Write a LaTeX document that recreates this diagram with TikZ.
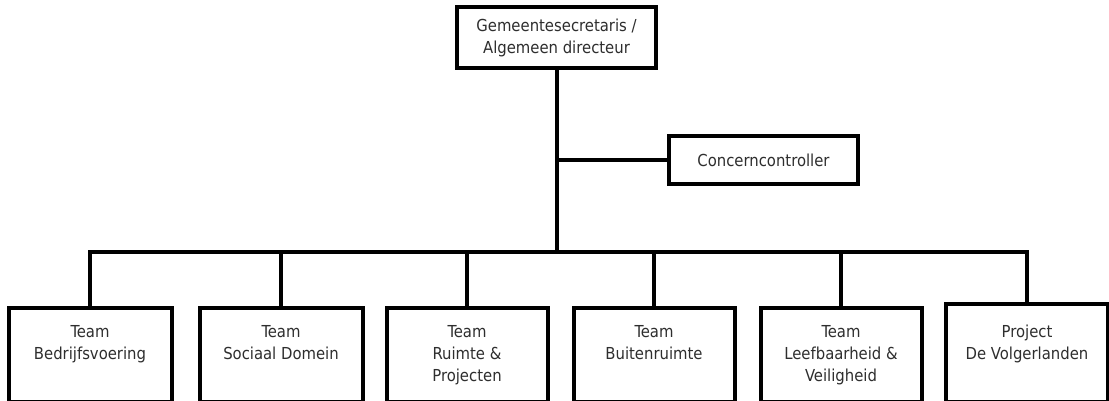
\documentclass[tikz,border=0pt]{standalone}
\usepackage{fontspec}
\setmainfont{DejaVu Sans Condensed}
\begin{document}
\begin{tikzpicture}[x=1pt,y=-1pt,
  box/.style={draw=black, line width=4pt, fill=white, rectangle, inner sep=0pt},
  lbl/.style={align=center, inner sep=0pt, text=black!82, font=\fontsize{16.5}{22}\selectfont},
  conn/.style={draw=black, line width=4pt}]
\useasboundingbox (0,0) rectangle (1109,400);
\clip (0,0) rectangle (1109,400);
% top
\node[box, minimum width=199pt, minimum height=61pt] (top) at (556.5,37.5) {};
\node[lbl] (topt) at (top.center) {Gemeentesecretaris /\\Algemeen directeur};
\node[box, minimum width=189pt, minimum height=48pt] (cc) at (763.5,160) {};
\node[lbl] (cct) at (cc.center) {Concerncontroller};
% bus
\coordinate (busL) at (90,252);
\coordinate (busR) at (1028,252);
\coordinate (ccj) at (top.south |- cc.west);
\coordinate (busj) at (top.south |- busL);
% bottom boxes
\node[box, minimum width=163pt, minimum height=94pt, anchor=north] (b1) at (90,306) {};
\node[box, minimum width=163pt, minimum height=94pt, anchor=north] (b2) at (281,306) {};
\node[box, minimum width=161pt, minimum height=94pt, anchor=north] (b3) at (467,306) {};
\node[box, minimum width=161pt, minimum height=94pt, anchor=north] (b4) at (654,306) {};
\node[box, minimum width=161pt, minimum height=94pt, anchor=north] (b5) at (841,306) {};
\node[box, minimum width=162pt, minimum height=98pt, anchor=north] (b6) at (1027,302) {};
\node[lbl, anchor=north] (b1t) at (90,325) {Team\\Bedrijfsvoering};
\node[lbl, anchor=north] (b2t) at (281,325) {Team\\Sociaal Domein};
\node[lbl, anchor=north] (b3t) at (467,325) {Team\\Ruimte \&\\Projecten};
\node[lbl, anchor=north] (b4t) at (654,325) {Team\\Buitenruimte};
\node[lbl, anchor=north] (b5t) at (841,325) {Team\\Leefbaarheid \&\\Veiligheid};
\node[lbl, anchor=north] (b6t) at (1027,325) {Project\\De Volgerlanden};
% connectors
\draw[conn] (top.south) -- (busj);
\draw[conn] (ccj) -- (cc.west);
\draw[conn, line cap=rect] (b1.north) -- (b1.north |- busL) -- (b6.north |- busR) -- (b6.north);
\foreach \b in {b2,b3,b4,b5} \draw[conn] (\b.north) -- (\b.north |- busL);
\end{tikzpicture}
\end{document}
